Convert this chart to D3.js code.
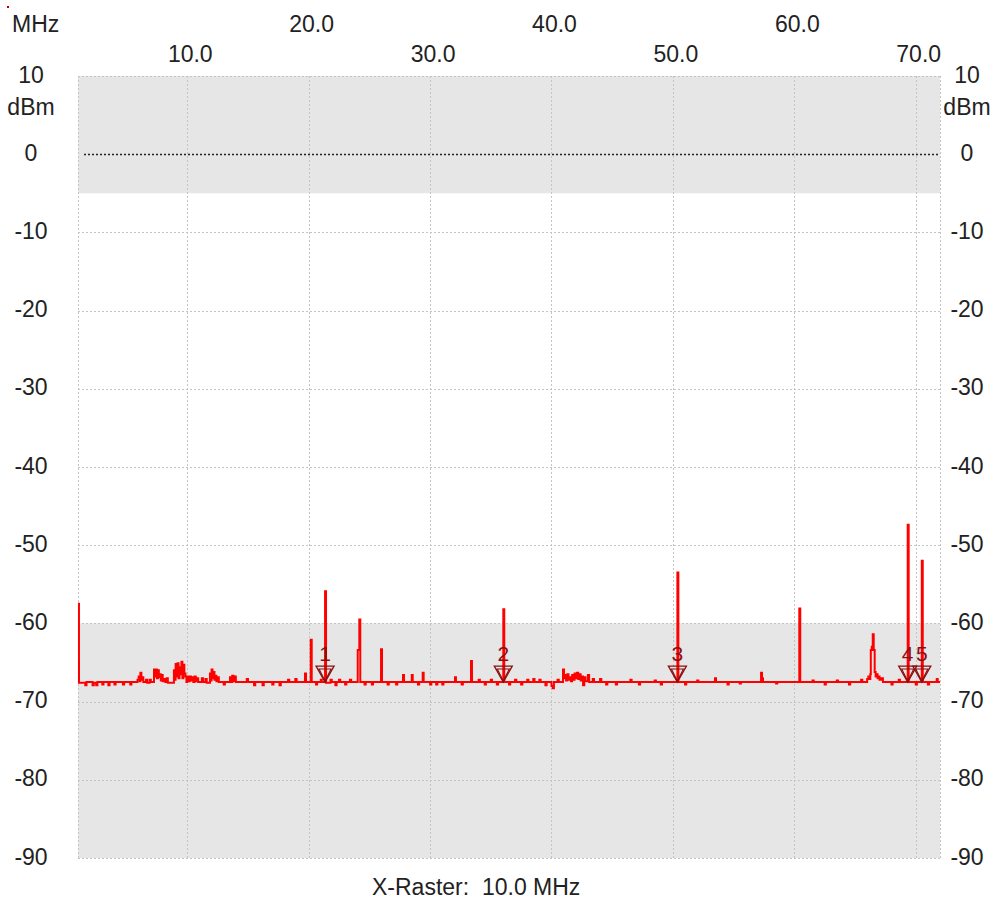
<!DOCTYPE html>
<html>
<head>
<meta charset="utf-8">
<script src="https://cdn.jsdelivr.net/npm/d3@7"></script>
<style>
  body { margin: 0; background: #fff; }
  text { font-family: "Liberation Sans", Arial, sans-serif; fill: #222; }
</style>
</head>
<body>
<svg id="chart" width="997" height="902"></svg>
<script>
// spectrum trace, [MHz, dBm] - each value holds until the next point
var trace = [
  [1.0,-57.5],[1.08,-67.6],[1.6,-67.9],[1.7,-67.5],[2.2,-67.9],[2.3,-67.6],[2.5,-67.9],[2.6,-67.5],
  [3.0,-67.8],[3.1,-67.5],[3.5,-67.9],[3.6,-67.5],[4.0,-67.8],[4.1,-67.5],[4.7,-67.8],[4.8,-67.5],
  [5.3,-67.8],[5.4,-67.5],[5.9,-67.2],[6.0,-66.8],[6.08,-67.4],[6.14,-66.3],[6.22,-67.2],[6.3,-66.9],
  [6.38,-67.5],[6.6,-67.2],[6.7,-67.6],[6.9,-67.2],[7.0,-67.5],[7.26,-65.9],[7.34,-66.8],[7.42,-65.9],
  [7.5,-67.0],[7.58,-66.0],[7.66,-66.9],[7.74,-66.5],[7.82,-67.3],[7.9,-66.6],[7.98,-67.4],[8.1,-67.1],
  [8.2,-67.5],[8.3,-67.0],[8.4,-67.6],[8.9,-66.0],[8.98,-67.2],[9.04,-65.2],[9.12,-66.8],[9.2,-65.1],
  [9.28,-67.0],[9.36,-65.6],[9.44,-66.5],[9.52,-64.9],[9.6,-67.0],[9.68,-65.3],[9.76,-66.4],[9.85,-66.8],
  [9.93,-67.5],[10.0,-66.8],[10.1,-67.4],[10.2,-66.8],[10.3,-67.3],[10.4,-66.9],[10.5,-67.5],[10.6,-66.8],
  [10.7,-67.4],[10.8,-67.0],[10.9,-67.5],[11.2,-67.0],[11.3,-67.5],[11.5,-67.1],[11.6,-67.6],[11.87,-66.4],
  [11.95,-67.3],[12.0,-65.9],[12.08,-67.0],[12.16,-66.2],[12.24,-67.2],[12.3,-66.7],[12.4,-67.4],[12.5,-66.9],
  [12.6,-67.5],[13.0,-67.8],[13.1,-67.5],[13.52,-66.9],[13.6,-67.5],[13.7,-66.7],[13.8,-67.4],[13.9,-66.8],
  [14.0,-67.5],[14.9,-67.1],[15.0,-67.5],[15.5,-67.9],[15.6,-67.5],[16.2,-67.9],[16.3,-67.5],[17.0,-67.8],
  [17.1,-67.5],[17.6,-67.9],[17.7,-67.5],[18.3,-67.2],[18.4,-67.5],[18.9,-67.1],[19.0,-67.5],[19.7,-66.4],
  [19.78,-67.5],[20.17,-62.1],[20.25,-67.5],[20.6,-67.8],[20.7,-67.5],[21.0,-67.2],[21.08,-67.5],[21.35,-55.9],
  [21.43,-67.6],[21.8,-67.2],[21.9,-67.5],[22.2,-67.9],[22.3,-67.5],[22.5,-67.2],[22.6,-67.5],[23.0,-67.8],
  [23.1,-67.5],[23.4,-67.2],[23.5,-67.5],[24.04,-63.4],[24.17,-59.5],[24.25,-67.5],[24.6,-67.8],[24.7,-67.5],
  [25.2,-67.8],[25.3,-67.5],[25.96,-63.3],[26.04,-67.5],[26.5,-67.8],[26.6,-67.5],[27.2,-67.8],[27.3,-67.5],
  [27.77,-66.6],[27.85,-67.5],[28.49,-66.6],[28.57,-67.5],[29.0,-67.8],[29.1,-67.5],[29.39,-66.3],[29.47,-67.5],
  [30.0,-67.8],[30.1,-67.5],[30.5,-67.8],[30.6,-67.5],[31.0,-67.8],[31.1,-67.5],[32.05,-66.9],[32.13,-67.5],
  [32.6,-67.8],[32.7,-67.5],[33.37,-64.8],[33.45,-67.5],[34.0,-67.2],[34.1,-67.5],[34.5,-67.8],[34.6,-67.5],
  [35.0,-67.2],[35.1,-67.5],[35.5,-67.8],[35.6,-67.5],[36.03,-58.2],[36.11,-67.5],[36.5,-67.8],[36.6,-67.5],
  [37.0,-67.2],[37.1,-67.5],[37.5,-67.8],[37.6,-67.5],[38.0,-67.2],[38.1,-67.5],[38.5,-67.1],[38.6,-67.5],
  [39.0,-67.2],[39.1,-67.5],[39.5,-67.9],[39.6,-67.5],[40.0,-68.0],[40.1,-68.3],[40.2,-67.5],[40.5,-67.2],
  [40.6,-67.5],[40.95,-65.9],[41.03,-67.0],[41.1,-66.6],[41.2,-67.3],[41.3,-66.5],[41.4,-67.2],[41.5,-66.9],
  [41.6,-67.4],[41.7,-66.6],[41.8,-67.2],[41.9,-66.4],[42.0,-67.0],[42.1,-66.3],[42.2,-67.1],[42.3,-66.5],
  [42.4,-67.3],[42.5,-66.8],[42.6,-67.9],[42.7,-66.9],[42.8,-67.4],[43.0,-66.6],[43.1,-67.5],[43.4,-67.1],
  [43.5,-67.5],[44.0,-67.1],[44.1,-67.5],[44.5,-67.8],[44.6,-67.5],[45.3,-67.8],[45.4,-67.5],[46.5,-67.2],
  [46.6,-67.5],[47.2,-67.8],[47.3,-67.5],[48.5,-67.3],[48.6,-67.5],[49.0,-67.8],[49.1,-67.5],[50.37,-53.5],
  [50.45,-67.5],[51.0,-67.8],[51.1,-67.5],[52.0,-67.3],[52.1,-67.5],[53.47,-67.0],[53.55,-67.5],[54.5,-67.8],
  [54.6,-67.5],[55.5,-67.7],[55.6,-67.5],[57.26,-66.3],[57.34,-67.0],[57.42,-67.5],[58.5,-67.7],[58.6,-67.5],
  [60.41,-58.1],[60.49,-67.5],[61.5,-67.3],[61.6,-67.5],[62.5,-67.8],[62.6,-67.5],[63.5,-67.3],[63.6,-67.5],
  [64.5,-67.8],[64.6,-67.5],[65.5,-67.2],[65.6,-67.5],[66.0,-67.1],[66.1,-66.8],[66.2,-67.1],[66.26,-66.5],
  [66.3,-63.4],[66.38,-63.0],[66.46,-61.4],[66.54,-63.4],[66.62,-66.2],[66.7,-66.8],[66.78,-66.5],[66.86,-67.0],
  [66.94,-66.8],[67.02,-67.2],[67.15,-67.0],[67.3,-67.5],[68.0,-67.8],[68.1,-67.5],[68.6,-67.2],[68.7,-67.5],
  [69.34,-47.4],[69.42,-67.5],[70.0,-67.8],[70.1,-67.5],[70.5,-52.0],[70.58,-67.5],[71.0,-67.8],[71.1,-67.5],
  [71.73,-67.1],[71.81,-67.5],[72.0,-67.5]
];

var markerFreqs = [21.35, 36.03, 50.37, 69.34, 70.5];
var markerLabels = ["1", "2", "3", "4", "5"];
var markerLevel = -67.5;

var xTicks = [10, 20, 30, 40, 50, 60, 70];
var yTicks = [10, 0, -10, -20, -30, -40, -50, -60, -70, -80, -90];
var bands = [[10, -5], [-60, -90]];

var svg = d3.select("#chart");
var x = d3.scaleLinear().domain([1, 72]).range([78, 940]);
var y = d3.scaleLinear().domain([10, -90]).range([76, 858]);

// stray pixel top left
svg.append("rect").attr("x", 7).attr("y", 6).attr("width", 2).attr("height", 2).attr("fill", "#b00000");

// grey bands
svg.selectAll("rect.band").data(bands).enter().append("rect")
  .attr("class", "band")
  .attr("x", x(1)).attr("width", x(72) - x(1))
  .attr("y", d => y(d[0])).attr("height", d => y(d[1]) - y(d[0]))
  .attr("fill", "#e6e6e6");

// grid
var grid = svg.append("g").attr("stroke", "#c4c4c4").attr("stroke-width", 1).attr("stroke-dasharray", "2,2");
grid.selectAll("line.h").data(yTicks.filter(v => v !== 0)).enter().append("line")
  .attr("x1", x(1)).attr("x2", x(72))
  .attr("y1", d => Math.round(y(d)) + 0.5).attr("y2", d => Math.round(y(d)) + 0.5);
grid.selectAll("line.v").data([1].concat(xTicks, [72])).enter().append("line")
  .attr("y1", y(10)).attr("y2", y(-90))
  .attr("x1", d => Math.round(x(d)) + 0.5).attr("x2", d => Math.round(x(d)) + 0.5);

// 0 dBm reference
svg.append("line")
  .attr("x1", x(1) + 6).attr("x2", x(72))
  .attr("y1", Math.round(y(0)) + 0.5).attr("y2", Math.round(y(0)) + 0.5)
  .attr("stroke", "#222").attr("stroke-width", 1.4).attr("stroke-dasharray", "2,2");

// top frequency labels, alternating rows
svg.selectAll("text.xt").data(xTicks).enter().append("text")
  .attr("x", d => x(d) + 3)
  .attr("y", (d, i) => i % 2 === 0 ? 62 : 32)
  .attr("text-anchor", "middle")
  .style("font-size", "23px")
  .text(d => d.toFixed(1));
svg.append("text").attr("x", 12).attr("y", 32).style("font-size", "23px").text("MHz");

// level labels on both sides
[31, 967].forEach(function (cx) {
  svg.selectAll(null).data(yTicks).enter().append("text")
    .attr("x", cx).attr("y", d => y(d) + 6.5)
    .attr("text-anchor", "middle")
    .style("font-size", "23px")
    .text(d => d);
  svg.append("text").attr("x", cx).attr("y", y(10) + 39)
    .attr("text-anchor", "middle").style("font-size", "23px").text("dBm");
});

svg.append("text").attr("x", 372).attr("y", 895)
  .style("font-size", "23px").style("white-space", "pre")
  .text("X-Raster:  10.0 MHz");

// trace
var line = d3.line().curve(d3.curveStepAfter).x(d => x(d[0])).y(d => y(d[1]));
svg.append("path").datum(trace)
  .attr("d", line)
  .attr("fill", "none")
  .attr("stroke", "#ff0000")
  .attr("stroke-width", 2);

// markers
var mk = svg.selectAll("g.mk").data(markerFreqs).enter().append("g")
  .attr("transform", d => "translate(" + x(d) + "," + y(markerLevel) + ")");
mk.append("path").attr("d", "M-9,-16L9,-16L0,0Z")
  .attr("fill", "none").attr("stroke", "#8a1010").attr("stroke-width", 1.3);
mk.append("path").attr("d", "M-6,-13L6,-13L0,-1Z")
  .attr("fill", "none").attr("stroke", "#8a1010").attr("stroke-width", 1.1);
mk.append("text").attr("y", -21).attr("text-anchor", "middle")
  .style("font-size", "21px").style("fill", "#8a1010")
  .text((d, i) => markerLabels[i]);
</script>
</body>
</html>
